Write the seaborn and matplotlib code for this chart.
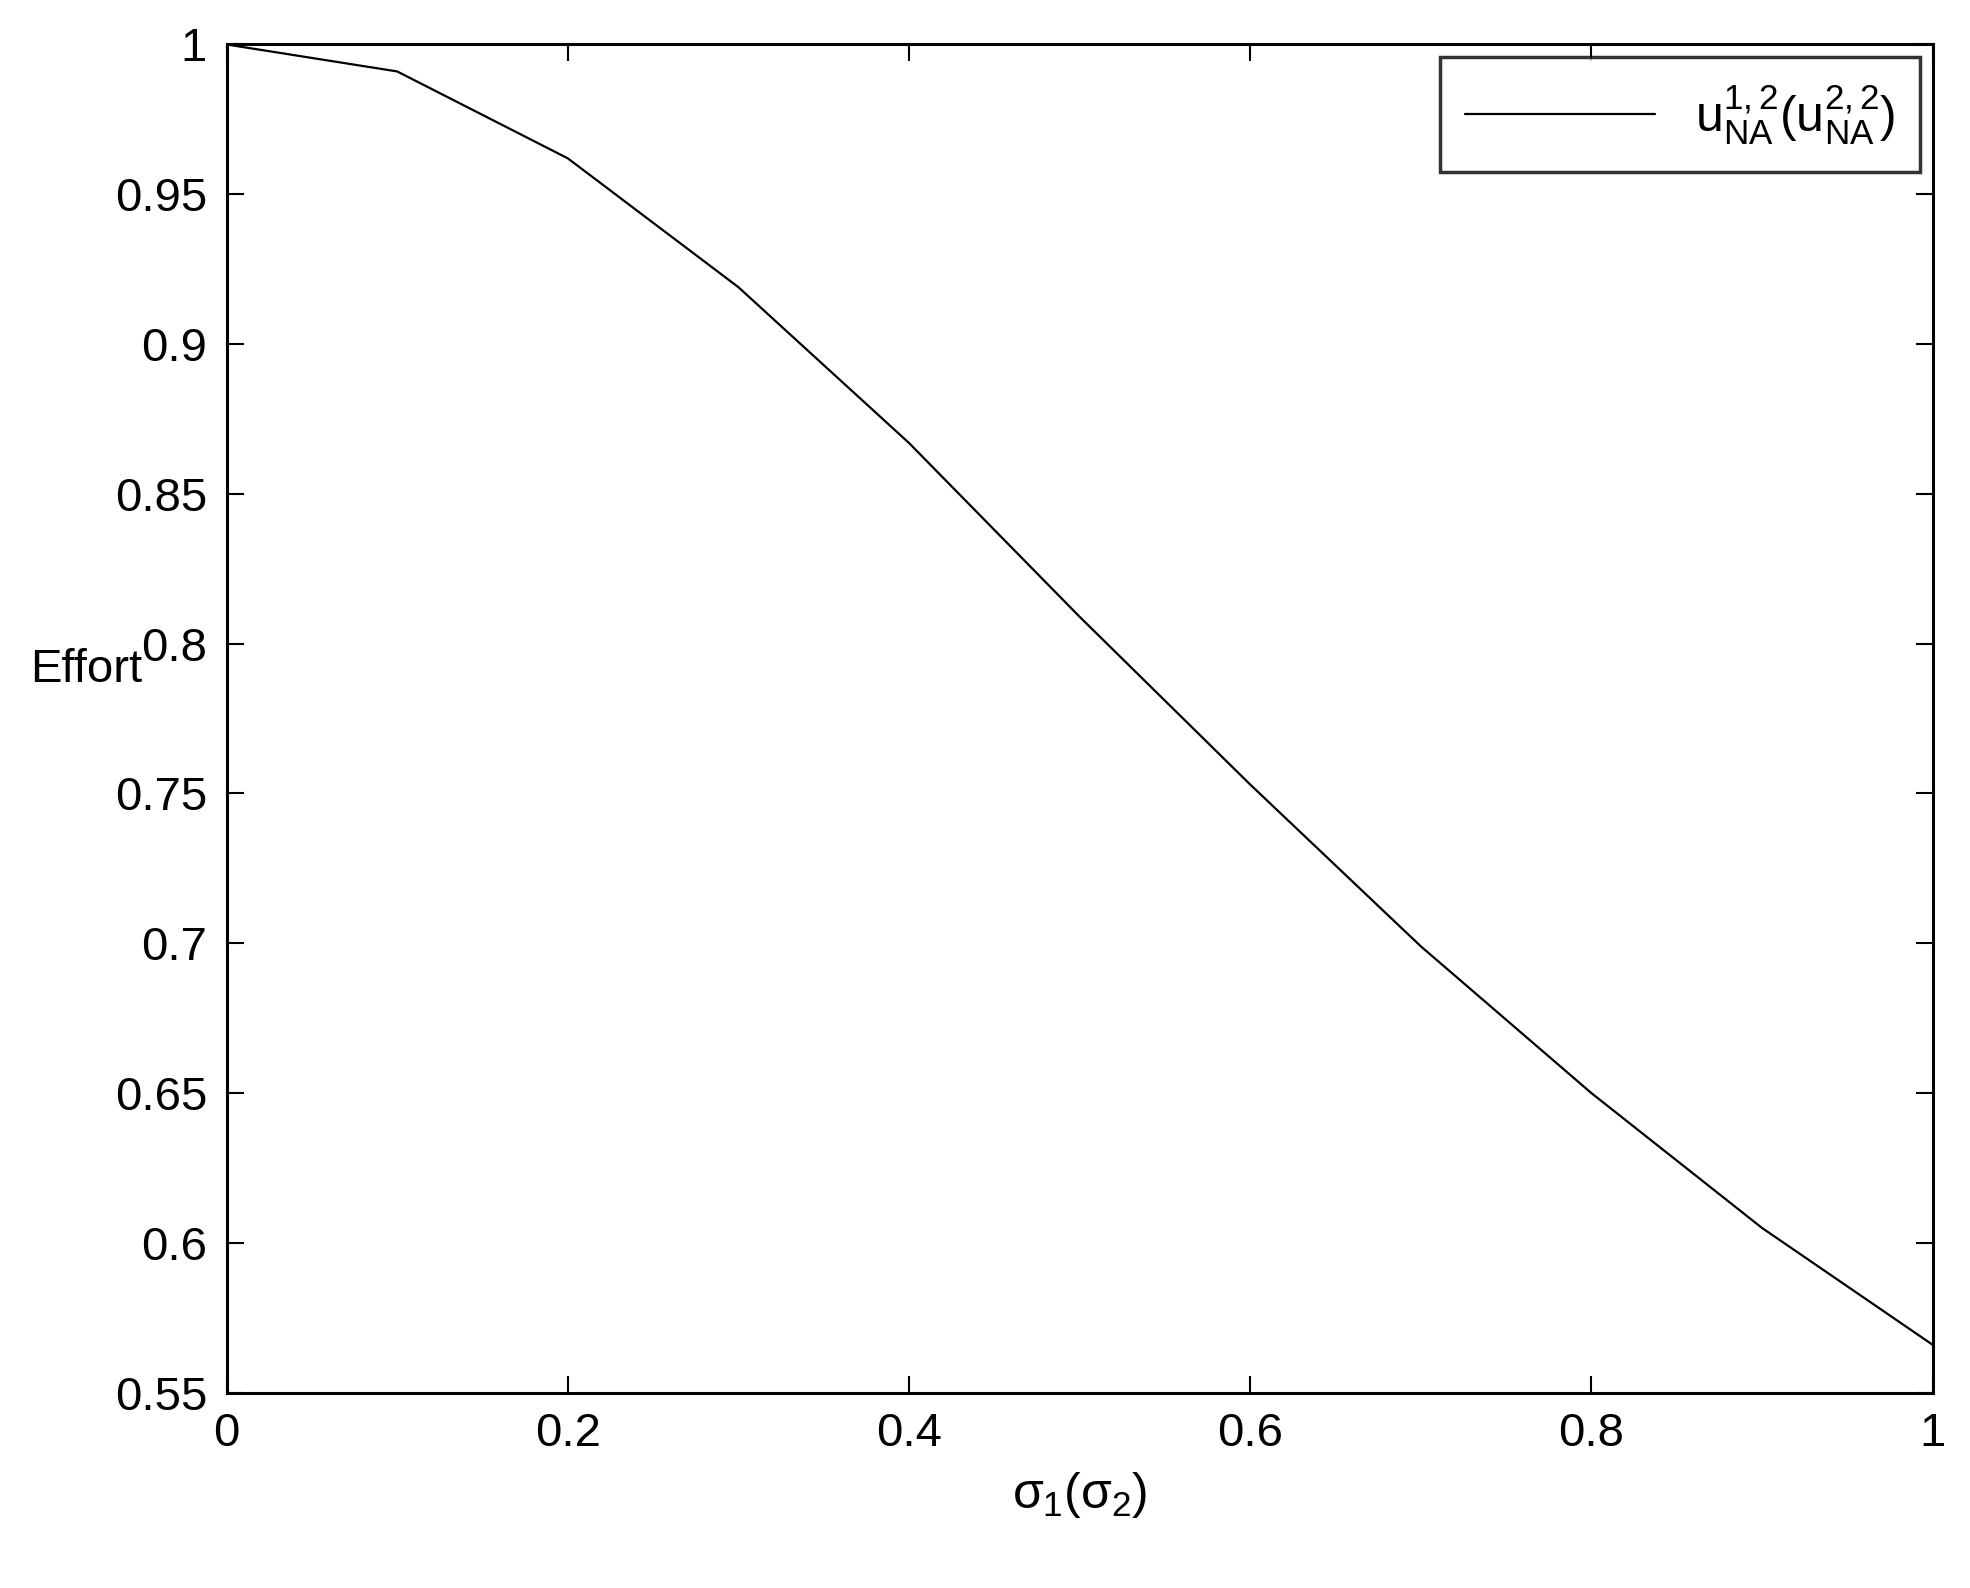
import numpy as np
import pandas as pd
import matplotlib
matplotlib.use('Agg')
import matplotlib.pyplot as plt
import seaborn as sns

sigma = [0.0, 0.1, 0.2, 0.3, 0.4, 0.5, 0.6, 0.7, 0.8, 0.9, 1.0]
effort = [1.0, 0.991, 0.962, 0.919, 0.867, 0.809, 0.753, 0.699, 0.650, 0.605, 0.566]

sns.set_style('white')
plt.rcParams['font.family'] = ['Liberation Sans', 'DejaVu Sans']
plt.rcParams['mathtext.fontset'] = 'custom'
plt.rcParams['mathtext.rm'] = 'Liberation Sans'
plt.rcParams['mathtext.it'] = 'Liberation Sans'
plt.rcParams['text.color'] = 'black'
plt.rcParams['xtick.color'] = 'black'
plt.rcParams['ytick.color'] = 'black'
plt.rcParams['axes.labelcolor'] = 'black'

df = pd.DataFrame({'sigma': sigma, 'effort': effort})

fig = plt.figure(figsize=(19.7, 15.88), dpi=100)
ax = fig.add_axes([0.115, 0.123, 0.866, 0.849])
sns.lineplot(data=df, x='sigma', y='effort', color='black', linewidth=1.6,
             label=r'$\mathrm{u}^{1,2}_{\mathrm{NA}}(\mathrm{u}^{2,2}_{\mathrm{NA}})$', ax=ax)

ax.set_xlim(0, 1)
ax.set_ylim(0.55, 1)
ax.set_xticks(np.arange(0, 1.01, 0.2))
ax.set_xticklabels(['0', '0.2', '0.4', '0.6', '0.8', '1'])
ax.set_yticks(np.arange(0.55, 1.001, 0.05))
ax.set_yticklabels(['0.55', '0.6', '0.65', '0.7', '0.75', '0.8', '0.85', '0.9', '0.95', '1'])
ax.tick_params(direction='in', length=12, width=1.5, labelsize=34, top=True, right=True,
               bottom=True, left=True, pad=14)
for s in ax.spines.values():
    s.set_linewidth(2.2)
    s.set_color('black')

ax.set_xlabel(r'$\sigma_1(\sigma_2)$', fontsize=36, labelpad=10)
ax.set_ylabel('Effort', fontsize=34, rotation=0)
ax.yaxis.set_label_coords(-0.082, 0.52)

leg = ax.legend(loc='upper right', fontsize=36, frameon=True, fancybox=False,
                handlelength=3.8, borderaxespad=0.25, borderpad=0.5)
leg.get_frame().set_edgecolor('black')
leg.get_frame().set_linewidth(2.5)

fig.savefig('out.png', dpi=100)
